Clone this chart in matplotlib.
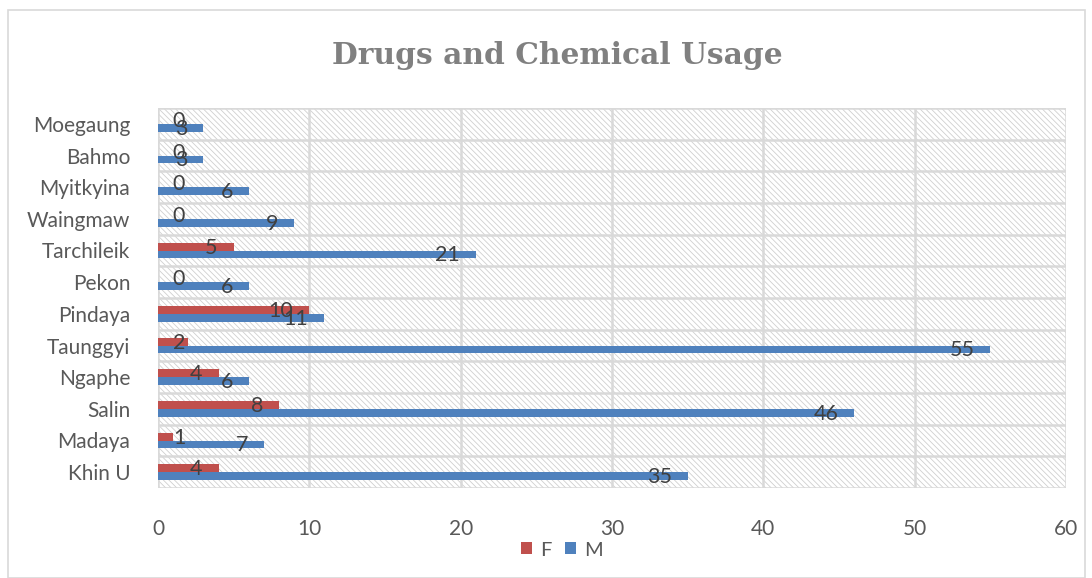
import numpy as np
import matplotlib
matplotlib.use('Agg')
import matplotlib.pyplot as plt
from matplotlib.patches import Rectangle

towns = ['Khin U', 'Madaya', 'Salin', 'Ngaphe', 'Taunggyi', 'Pindaya',
         'Pekon', 'Tarchileik', 'Waingmaw', 'Myitkyina', 'Bahmo', 'Moegaung']
female = [4, 1, 8, 4, 2, 10, 0, 5, 0, 0, 0, 0]
male = [35, 7, 46, 6, 55, 11, 6, 21, 9, 6, 3, 3]

red = '#C0504D'
blue = '#4F81BD'
txt = '#595959'
gridc = '#D9D9D9'

plt.rcParams['font.family'] = ['Lato', 'DejaVu Sans']
plt.rcParams['hatch.linewidth'] = 0.6
plt.rcParams['hatch.color'] = '#CFCFCF'

fig = plt.figure(figsize=(10.92, 5.78), dpi=100)
ax = fig.add_axes([158/1092, 90/578, 908/1092, 380/578])

# hatched plot background
ax.patch.set_facecolor('white')
ax.patch.set_hatch('\\\\\\\\\\\\')
ax.patch.set_edgecolor('#CFCFCF')
ax.patch.set_linewidth(0)

y = np.arange(len(towns))
h = 0.25
ax.barh(y + h/2, female, height=h, color=red, label='F', zorder=3)
ax.barh(y - h/2, male, height=h, color=blue, label='M', zorder=3)

# data labels near bar ends
for vals, off in ((female, h/2), (male, -h/2)):
    for yi, v in zip(y, vals):
        if v >= 3:
            ax.annotate(str(v), (v, yi + off), xytext=(-16, -1), textcoords='offset pixels',
                        ha='right', va='center', fontsize=15.5, color='#404040', zorder=4)
        else:
            ax.annotate(str(v), (0, yi + off), xytext=(21, -1), textcoords='offset pixels',
                        ha='center', va='center', fontsize=15.5, color='#404040', zorder=4)

ax.set_xlim(0, 60)
ax.set_ylim(-0.5, len(towns) - 0.5)
ax.set_xticks(range(0, 61, 10))
ax.set_yticks(y)
ax.set_yticklabels(towns)
ax.set_yticks(np.arange(-0.5, len(towns), 1), minor=True)
ax.grid(axis='x', color=gridc, linewidth=1.8, zorder=1)
ax.grid(axis='y', which='minor', color=gridc, linewidth=1.8, zorder=1)
ax.tick_params(axis='both', which='both', length=0, colors=txt, labelsize=15)
ax.tick_params(axis='y', pad=20)
ax.tick_params(axis='x', pad=22)
for s in ax.spines.values():
    s.set_visible(False)

fig.text(557/1092, 1 - 56/578, 'Drugs and Chemical Usage', ha='center', va='center',
         fontsize=21.4, fontweight='bold', color='#808080', family='DejaVu Serif')

fig.legend(loc='center', bbox_to_anchor=(562/1092, 1 - 550/578), ncol=2, frameon=False,
           fontsize=14.5, labelcolor=txt, handlelength=0.55, handleheight=0.55,
           columnspacing=0.7, handletextpad=0.4)

fig.patches.append(Rectangle((8/1092, 0), 1077/1092, 1 - 10/578, transform=fig.transFigure,
                             fill=False, edgecolor=gridc, linewidth=1.2))

fig.savefig('out.png', dpi=100)
